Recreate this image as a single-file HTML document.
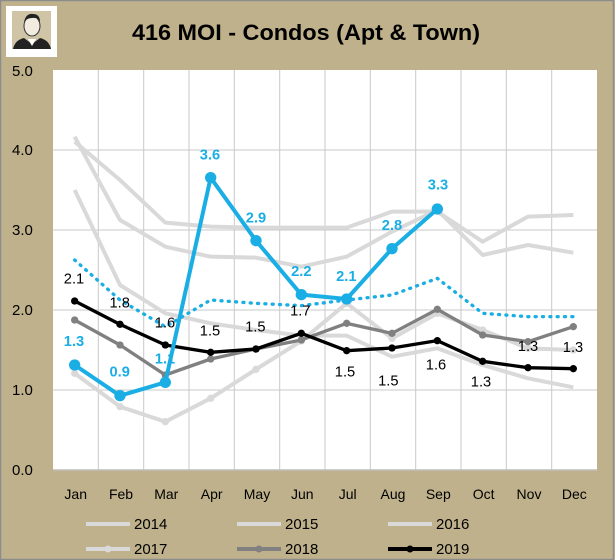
<!DOCTYPE html>
<html><head><meta charset="utf-8"><style>
html,body{margin:0;padding:0;background:#bfb18b;}
svg{display:block;font-family:"Liberation Sans",sans-serif;}
</style></head><body>
<svg width="615" height="560" viewBox="0 0 615 560" xmlns="http://www.w3.org/2000/svg">
<rect x="0.5" y="0.5" width="613" height="559" fill="#bfb18b" stroke="#8c8c8c" stroke-width="1.5"/>
<rect x="6" y="6" width="51" height="51" fill="#fff"/>
<rect x="12" y="11" width="39" height="38" fill="#cfc4a6"/>
<ellipse cx="32" cy="26" rx="8" ry="10" fill="#f2ece0" stroke="#333" stroke-width="1"/>
<path d="M24 22 Q26 13 33 14 Q40 14 40 22 Q38 17 32 18 Q27 18 24 22Z" fill="#222"/>
<path d="M13 49 Q15 40 24 38 L32 44 L40 38 Q49 40 51 49Z" fill="#222"/>
<path d="M28 39 L32 46 L36 39Z" fill="#fff"/>
<text x="306" y="40" text-anchor="middle" font-size="22" font-weight="bold" fill="#000" textLength="348" lengthAdjust="spacingAndGlyphs">416 MOI - Condos (Apt &amp; Town)</text>
<rect x="53" y="70" width="544" height="400" fill="#fff"/>
<g stroke="#c8c8c8" stroke-width="1">
<line x1="53" y1="150" x2="597" y2="150"/><line x1="53" y1="230" x2="597" y2="230"/>
<line x1="53" y1="310" x2="597" y2="310"/><line x1="53" y1="390" x2="597" y2="390"/>
<line x1="98.3" y1="70" x2="98.3" y2="470"/><line x1="143.7" y1="70" x2="143.7" y2="470"/>
<line x1="189" y1="70" x2="189" y2="470"/><line x1="234.3" y1="70" x2="234.3" y2="470"/>
<line x1="279.7" y1="70" x2="279.7" y2="470"/><line x1="325" y1="70" x2="325" y2="470"/>
<line x1="370.3" y1="70" x2="370.3" y2="470"/><line x1="415.7" y1="70" x2="415.7" y2="470"/>
<line x1="461" y1="70" x2="461" y2="470"/><line x1="506.3" y1="70" x2="506.3" y2="470"/>
<line x1="551.7" y1="70" x2="551.7" y2="470"/>
</g>
<line x1="53" y1="470" x2="597" y2="470" stroke="#bdbdbd" stroke-width="1.5"/>
<g font-size="15" fill="#000">
<text x="12" y="76">5.0</text><text x="12" y="155">4.0</text><text x="12" y="235">3.0</text>
<text x="12" y="315">2.0</text><text x="12" y="395">1.0</text><text x="12" y="475">0.0</text>
</g>
<g font-size="14" fill="#000" text-anchor="middle">
<text x="75.7" y="499">Jan</text><text x="121" y="499">Feb</text><text x="166.3" y="499">Mar</text>
<text x="211.7" y="499">Apr</text><text x="257" y="499">May</text><text x="302.3" y="499">Jun</text>
<text x="347.7" y="499">Jul</text><text x="393" y="499">Aug</text><text x="438.3" y="499">Sep</text>
<text x="483.7" y="499">Oct</text><text x="529" y="499">Nov</text><text x="574.3" y="499">Dec</text>
</g>
<g transform="translate(53,130) scale(0.33333)" fill="none" stroke-linejoin="round">
<polyline stroke="#d9d9d9" stroke-width="12" points="65,35 201,150 337,278 473,290 609,293 745,293 881,293 1017,245 1153,245 1289,335 1425,260 1561,255"/>
<polyline stroke="#d9d9d9" stroke-width="12" points="65,20 201,270 337,350 473,380 609,383 745,410 881,380 1017,305 1153,240 1289,375 1425,345 1561,368"/>
<polyline stroke="#d9d9d9" stroke-width="12" points="65,180 201,465 337,550 473,580 609,600 745,617 881,617 1017,680 1153,655 1289,705 1425,745 1561,772"/>
<polyline stroke="#d9d9d9" stroke-width="12" points="65,730 201,830 337,875 473,805 609,718 745,633 881,520 1017,625 1153,550 1289,600 1425,655 1561,660"/>
<g fill="#d9d9d9"><circle cx="65" cy="730" r="11"/><circle cx="201" cy="830" r="11"/><circle cx="337" cy="875" r="11"/><circle cx="473" cy="805" r="11"/><circle cx="609" cy="718" r="11"/><circle cx="745" cy="633" r="11"/><circle cx="881" cy="520" r="11"/><circle cx="1017" cy="625" r="11"/><circle cx="1153" cy="550" r="11"/><circle cx="1289" cy="600" r="11"/><circle cx="1425" cy="655" r="11"/><circle cx="1561" cy="660" r="11"/></g>
<polyline stroke="#808080" stroke-width="10" points="65,570 201,645 337,735 473,687 609,657 745,630 881,580 1017,610 1153,538 1289,615 1425,635 1561,590"/>
<g fill="#808080"><circle cx="65" cy="570" r="11"/><circle cx="201" cy="645" r="11"/><circle cx="337" cy="735" r="11"/><circle cx="473" cy="687" r="11"/><circle cx="609" cy="657" r="11"/><circle cx="745" cy="630" r="11"/><circle cx="881" cy="580" r="11"/><circle cx="1017" cy="610" r="11"/><circle cx="1153" cy="538" r="11"/><circle cx="1289" cy="615" r="11"/><circle cx="1425" cy="635" r="11"/><circle cx="1561" cy="590" r="11"/></g>
<polyline stroke="#1aaee5" stroke-width="10" stroke-dasharray="3,19" stroke-linecap="round" points="65,390 201,510 337,590 473,510 609,520 745,527 881,510 1017,495 1153,445 1289,550 1425,560 1561,560"/>
<polyline stroke="#000" stroke-width="10" points="65,513 201,583 337,645 473,667 609,657 745,610 881,662 1017,654 1153,632 1289,694 1425,713 1561,716"/>
<g fill="#000"><circle cx="65" cy="513" r="11"/><circle cx="201" cy="583" r="11"/><circle cx="337" cy="645" r="11"/><circle cx="473" cy="667" r="11"/><circle cx="609" cy="657" r="11"/><circle cx="745" cy="610" r="11"/><circle cx="881" cy="662" r="11"/><circle cx="1017" cy="654" r="11"/><circle cx="1153" cy="632" r="11"/><circle cx="1289" cy="694" r="11"/><circle cx="1425" cy="713" r="11"/><circle cx="1561" cy="716" r="11"/></g>
<polyline stroke="#1aaee5" stroke-width="12" points="65,705 201,797 337,757 473,143 609,332 745,494 881,507 1017,356 1153,237"/>
<g fill="#1aaee5"><circle cx="65" cy="705" r="17"/><circle cx="201" cy="797" r="17"/><circle cx="337" cy="757" r="17"/><circle cx="473" cy="143" r="17"/><circle cx="609" cy="332" r="17"/><circle cx="745" cy="494" r="17"/><circle cx="881" cy="507" r="17"/><circle cx="1017" cy="356" r="17"/><circle cx="1153" cy="237" r="17"/></g>
<g font-size="44" fill="#000" stroke="none" text-anchor="middle">
<text x="63" y="460">2.1</text><text x="200" y="533">1.8</text><text x="336" y="593">1.6</text>
<text x="471" y="617">1.5</text><text x="607" y="605">1.5</text><text x="742" y="557">1.7</text>
<text x="876" y="740">1.5</text><text x="1006" y="767">1.5</text><text x="1149" y="718">1.6</text>
<text x="1284" y="770">1.3</text><text x="1425" y="663">1.3</text><text x="1560" y="666">1.3</text>
</g>
<g font-size="44" font-weight="bold" fill="#1aaee5" stroke="none" text-anchor="middle">
<text x="63" y="648">1.3</text><text x="200" y="740">0.9</text><text x="336" y="700">1.1</text>
<text x="471" y="88">3.6</text><text x="609" y="278">2.9</text><text x="745" y="438">2.2</text>
<text x="880" y="453">2.1</text><text x="1017" y="300">2.8</text><text x="1155" y="178">3.3</text>
</g>
</g>
<g stroke-width="4">
<line x1="86" y1="524" x2="130" y2="524" stroke="#d9d9d9"/>
<line x1="237" y1="524" x2="281" y2="524" stroke="#d9d9d9"/>
<line x1="388" y1="524" x2="432" y2="524" stroke="#d9d9d9"/>
<line x1="86" y1="549" x2="130" y2="549" stroke="#d9d9d9"/>
<line x1="237" y1="549" x2="281" y2="549" stroke="#808080"/>
<line x1="388" y1="549" x2="432" y2="549" stroke="#000"/>
</g>
<circle cx="108" cy="549" r="3.5" fill="#d9d9d9"/><circle cx="259" cy="549" r="3.5" fill="#808080"/><circle cx="410" cy="549" r="3.5" fill="#000"/>
<g font-size="15" fill="#000">
<text x="134" y="529">2014</text><text x="285" y="529">2015</text><text x="436" y="529">2016</text>
<text x="134" y="554">2017</text><text x="285" y="554">2018</text><text x="436" y="554">2019</text>
</g>
</svg>
</body></html>
